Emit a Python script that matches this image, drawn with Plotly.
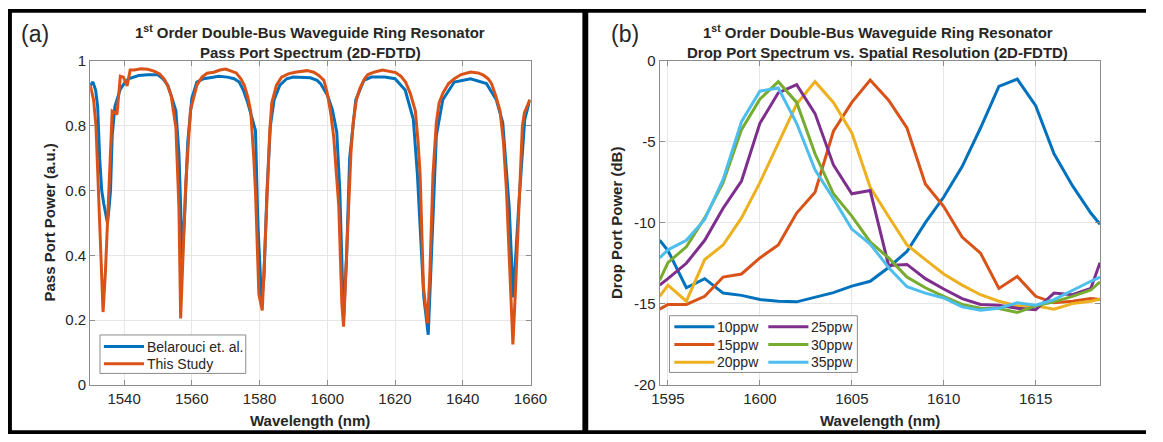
import plotly.graph_objects as go

# ---------------- data: panel (a) pass port ----------------
wl_this = [1530.0, 1531.0, 1531.7, 1532.5, 1533.2, 1533.8, 1534.5, 1535.1, 1535.8, 1536.5,
           1537.3, 1537.9, 1538.9, 1539.8, 1540.9, 1541.8, 1543.0, 1545.0, 1547.0, 1549.0,
           1550.5, 1551.9, 1553.0, 1553.9, 1555.3, 1556.2, 1556.7, 1557.3, 1558.2, 1559.6,
           1561.5, 1563.0, 1564.5, 1566.5, 1568.3, 1570.0, 1572.0, 1573.1, 1574.5, 1575.5,
           1576.5, 1577.4, 1578.3, 1578.8, 1579.8, 1580.8, 1581.5, 1582.2, 1583.0, 1583.6,
           1585.0, 1586.5, 1588.5, 1590.5, 1592.3, 1594.0, 1596.0, 1597.5, 1599.0, 1600.0,
           1601.0, 1601.9, 1602.7, 1603.4, 1604.3, 1604.8, 1605.5, 1606.2, 1607.0, 1607.7,
           1608.6, 1609.6, 1611.0, 1612.0, 1614.0, 1616.3, 1618.5, 1620.2, 1621.7, 1623.1,
           1624.5, 1626.0, 1626.8, 1627.4, 1628.4, 1629.6, 1630.3, 1631.2, 1632.2, 1633.0,
           1634.1, 1635.8, 1637.5, 1639.5, 1642.3, 1644.5, 1646.1, 1647.5, 1648.5, 1649.8,
           1651.0, 1652.0, 1652.9, 1654.3, 1654.8, 1655.5, 1656.2, 1657.0, 1657.6, 1658.2,
           1659.0, 1659.8]
pw_this = [0.925, 0.88, 0.80, 0.60, 0.40, 0.225, 0.35, 0.50, 0.70, 0.845,
           0.84, 0.835, 0.953, 0.95, 0.923, 0.972, 0.972, 0.976, 0.974, 0.968,
           0.96, 0.943, 0.92, 0.893, 0.794, 0.547, 0.205, 0.38, 0.62, 0.847,
           0.925, 0.95, 0.962, 0.965, 0.972, 0.975, 0.968, 0.963, 0.945, 0.925,
           0.89, 0.844, 0.70, 0.596, 0.28, 0.23, 0.40, 0.60, 0.78, 0.87,
           0.925, 0.95, 0.96, 0.965, 0.968, 0.97, 0.965, 0.955, 0.94, 0.90,
           0.84, 0.765, 0.65, 0.55, 0.25, 0.18, 0.35, 0.55, 0.72, 0.814,
           0.88, 0.915, 0.945, 0.958, 0.966, 0.972, 0.968, 0.964, 0.953, 0.935,
           0.90, 0.846, 0.75, 0.65, 0.30, 0.19, 0.35, 0.65, 0.81, 0.87,
           0.90, 0.93, 0.945, 0.958, 0.966, 0.963, 0.956, 0.945, 0.93, 0.89,
           0.846, 0.75, 0.60, 0.25, 0.125, 0.28, 0.45, 0.65, 0.80, 0.84,
           0.86, 0.88]

wl_bel = [1530.0, 1530.8, 1531.6, 1532.2, 1532.8, 1533.4, 1534.0, 1534.6, 1535.1, 1535.6,
          1536.0, 1536.5, 1537.3, 1538.9, 1540.0, 1541.3, 1543.0, 1544.3, 1547.0, 1550.0,
          1551.5, 1552.9, 1554.0, 1555.3, 1556.2, 1556.7, 1557.2, 1558.0, 1558.8, 1560.0,
          1561.5, 1563.5, 1565.9, 1568.0, 1570.5, 1572.5, 1574.0, 1575.2, 1576.4, 1577.7,
          1578.8, 1579.5, 1580.6, 1581.3, 1582.2, 1583.2, 1584.3, 1586.0, 1588.0, 1590.0,
          1592.5, 1595.0, 1597.0, 1598.0, 1600.0, 1601.5, 1602.8, 1603.7, 1604.8, 1605.7,
          1606.6, 1608.4, 1610.8, 1613.0, 1617.0, 1620.0, 1623.0, 1625.4, 1626.6, 1627.6,
          1628.5, 1629.8, 1630.7, 1632.2, 1634.1, 1637.5, 1642.3, 1647.0, 1649.9, 1651.8,
          1653.7, 1654.9, 1656.5, 1658.3, 1659.8]
pw_bel = [0.925, 0.935, 0.91, 0.86, 0.70, 0.60, 0.56, 0.52, 0.50, 0.55,
          0.60, 0.77, 0.86, 0.913, 0.93, 0.945, 0.952, 0.955, 0.957, 0.957,
          0.945, 0.925, 0.89, 0.846, 0.715, 0.528, 0.39, 0.55, 0.75, 0.885,
          0.935, 0.945, 0.95, 0.953, 0.95, 0.945, 0.935, 0.91, 0.875, 0.83,
          0.785, 0.50, 0.26, 0.33, 0.60, 0.80, 0.88, 0.925, 0.945, 0.95,
          0.95, 0.948, 0.94, 0.93, 0.895, 0.85, 0.78, 0.60, 0.20, 0.40,
          0.70, 0.88, 0.94, 0.95, 0.95, 0.945, 0.91, 0.82, 0.65, 0.45,
          0.27, 0.155, 0.40, 0.77, 0.88, 0.935, 0.945, 0.93, 0.88, 0.81,
          0.55, 0.27, 0.55, 0.82, 0.88]
pass_names = ["Belarouci et. al.", "This Study"]

a_xticks = [1540, 1560, 1580, 1600, 1620, 1640, 1660]
a_yticks = [0, 0.2, 0.4, 0.6, 0.8, 1]
a_yticklabels = ["0", "0.2", "0.4", "0.6", "0.8", "1"]

# ---------------- data: panel (b) drop port ----------------
wl_drop = [1594.55, 1595, 1596, 1597, 1598, 1599, 1600, 1601, 1602, 1603, 1604, 1605,
           1606, 1607, 1608, 1609, 1610, 1611, 1612, 1613, 1614, 1615, 1616, 1617,
           1618, 1618.5]
db_10 = [-11.07, -11.7, -14.0, -13.44, -14.33, -14.47, -14.73, -14.83, -14.87, -14.6, -14.3, -13.9,
         -13.6, -12.75, -11.76, -9.98, -8.4, -6.52, -4.14, -1.57, -1.12, -2.76, -5.73, -7.7,
         -9.39, -10.08]
db_15 = [-15.32, -15.03, -15.03, -14.53, -13.34, -13.15, -12.16, -11.36, -9.39, -8.1, -4.34, -2.56,
         -1.18, -2.43, -4.14, -7.6, -8.99, -10.87, -11.86, -14.04, -13.3, -14.53, -14.93, -14.83,
         -14.67, -14.73]
db_20 = [-14.53, -13.84, -14.83, -12.26, -11.36, -9.69, -7.51, -5.13, -2.66, -1.28, -2.56, -4.44,
         -7.8, -9.6, -11.36, -12.26, -13.15, -13.84, -14.43, -14.83, -15.12, -15.12, -15.32, -14.98,
         -14.83, -14.7]
db_25 = [-13.84, -13.44, -12.49, -11.07, -9.09, -7.41, -3.85, -1.97, -1.47, -3.25, -6.42, -8.2,
         -8.0, -12.62, -12.56, -13.44, -14.08, -14.67, -15.03, -15.08, -15.26, -15.36, -14.33, -14.43,
         -14.04, -12.45]
db_30 = [-13.54, -12.45, -11.47, -9.69, -7.51, -4.24, -2.36, -1.28, -2.56, -5.73, -8.2, -9.58,
         -11.17, -12.16, -13.34, -14.0, -14.53, -15.03, -15.26, -15.28, -15.52, -15.12, -14.87, -14.53,
         -14.14, -13.64]
db_35 = [-12.16, -11.66, -11.07, -9.78, -7.31, -3.75, -1.87, -1.67, -3.85, -6.72, -8.5, -10.38,
         -11.3, -12.75, -13.94, -14.33, -14.63, -15.18, -15.38, -15.26, -14.93, -15.08, -14.73, -14.14,
         -13.6, -13.34]
drop_names = ["10ppw", "15ppw", "20ppw", "25ppw", "30ppw", "35ppw"]
b_xticks = [1595, 1600, 1605, 1610, 1615]
b_yticks = [-20, -15, -10, -5, 0]
b_yticklabels = ["-20", "-15", "-10", "-5", "0"]

# ---------------- figure ----------------
W, H = 1163, 442
def fx(p):
    return p / W
def fy(p):
    return 1 - p / H

colors = ["#0072BD", "#D95319", "#EDB120", "#7E2F8E", "#77AC30", "#4DBEEE"]
FONT = "Liberation Sans, Arial, sans-serif"
TXT = "#262626"
AXC = "#8c8c8c"
GRID = "#e6e6e6"
LW = 3

fig = go.Figure()
fig.add_trace(go.Scatter(x=wl_bel, y=pw_bel, mode="lines", name=pass_names[0],
                         line=dict(color=colors[0], width=LW), xaxis="x", yaxis="y"))
fig.add_trace(go.Scatter(x=wl_this, y=pw_this, mode="lines", name=pass_names[1],
                         line=dict(color=colors[1], width=LW), xaxis="x", yaxis="y"))

drop_series = [db_10, db_15, db_20, db_25, db_30, db_35]
for i, (nm, ys) in enumerate(zip(drop_names, drop_series)):
    fig.add_trace(go.Scatter(x=wl_drop, y=ys, mode="lines", name=nm,
                             line=dict(color=colors[i], width=LW), xaxis="x2", yaxis="y2"))

ax_common = dict(showline=True, linecolor=AXC, linewidth=1, mirror="ticks", ticks="inside",
                 ticklen=5, tickcolor=AXC, showgrid=True, gridcolor=GRID, gridwidth=1,
                 zeroline=False, tickfont=dict(family=FONT, size=15, color=TXT))
ydom = [fy(391), fy(54)]

fig.update_layout(
    width=W, height=H, margin=dict(l=0, r=0, t=0, b=0, pad=0), autosize=False,
    paper_bgcolor="white", plot_bgcolor="white", showlegend=False,
    xaxis=dict(domain=[fx(84), fx(534)], range=[1530, 1660], tickvals=a_xticks,
               anchor="y", **ax_common),
    yaxis=dict(domain=ydom, range=[0, 1], tickvals=a_yticks, ticktext=a_yticklabels,
               anchor="x", **ax_common),
    xaxis2=dict(domain=[fx(666), fx(1116)], range=[1594.55, 1618.5], tickvals=b_xticks,
                anchor="y2", **ax_common),
    yaxis2=dict(domain=ydom, range=[-20, 0], tickvals=b_yticks, ticktext=b_yticklabels,
                anchor="x2", **ax_common),
)

shapes = []
ann = []

def add_text(x, y, text, size, bold=True, angle=0, xanchor="center"):
    t = f"<b>{text}</b>" if bold else text
    ann.append(dict(xref="paper", yref="paper", x=fx(x), y=fy(y), text=t, showarrow=False,
                    xanchor=xanchor, yanchor="middle", textangle=angle,
                    font=dict(family=FONT, size=size, color=TXT)))

def legend_box(x0, x1, y0, y1):
    shapes.append(dict(type="rect", xref="paper", yref="paper", x0=fx(x0), x1=fx(x1),
                       y0=fy(y1), y1=fy(y0), line=dict(color=AXC, width=1),
                       fillcolor="white", layer="above"))

def legend_item(xl, yl, name, color):
    shapes.append(dict(type="line", xref="paper", yref="paper", x0=fx(xl), x1=fx(xl + 41),
                       y0=fy(yl), y1=fy(yl), line=dict(color=color, width=LW), layer="above"))
    ann.append(dict(xref="paper", yref="paper", x=fx(xl + 44), y=fy(yl), text=name,
                    showarrow=False, xanchor="left", yanchor="middle", xshift=-2,
                    font=dict(family=FONT, size=14, color=TXT)))

# legend (a)
legend_box(94, 243, 339, 379)
legend_item(98, 351, pass_names[0], colors[0])
legend_item(98, 369, pass_names[1], colors[1])
# legend (b), two columns
legend_box(676, 868, 319, 378)
rows = [330.5, 349, 367.5]
for i, nm in enumerate(drop_names):
    col = i // 3
    legend_item(681 if col == 0 else 777, rows[i % 3], nm, colors[i])

# panel borders
for (x0, x1, y0, y1) in [(0, W, 0, 4), (0, 4, 0, H), (0, W, 438, H), (587, 593, 0, H)]:
    shapes.append(dict(type="rect", xref="paper", yref="paper", x0=fx(x0), x1=fx(x1),
                       y0=fy(y1), y1=fy(y0), line=dict(width=0), fillcolor="black",
                       layer="above"))

add_text(309, 23, "1<sup>st</sup> Order Double-Bus Waveguide Ring Resonator", 15)
add_text(309, 45, "Pass Port Spectrum (2D-FDTD)", 15)
add_text(889, 23, "1<sup>st</sup> Order Double-Bus Waveguide Ring Resonator", 15)
add_text(889, 45, "Drop Port Spectrum vs. Spatial Resolution (2D-FDTD)", 15)
add_text(309, 428, "Wavelength (nm)", 15)
add_text(891, 428, "Wavelength (nm)", 15)
add_text(42, 222, "Pass Port Power (a.u.)", 15, angle=-90)
add_text(622, 222, "Drop Port Power (dB)", 15, angle=-90)
add_text(28, 26, "(a)", 23, bold=False)
add_text(631, 26, "(b)", 23, bold=False)

fig.update_layout(shapes=shapes, annotations=ann)

fig.write_html("out.html", config={"displayModeBar": False},
               post_script="document.body.style.margin='0';document.body.style.overflow='hidden';")
